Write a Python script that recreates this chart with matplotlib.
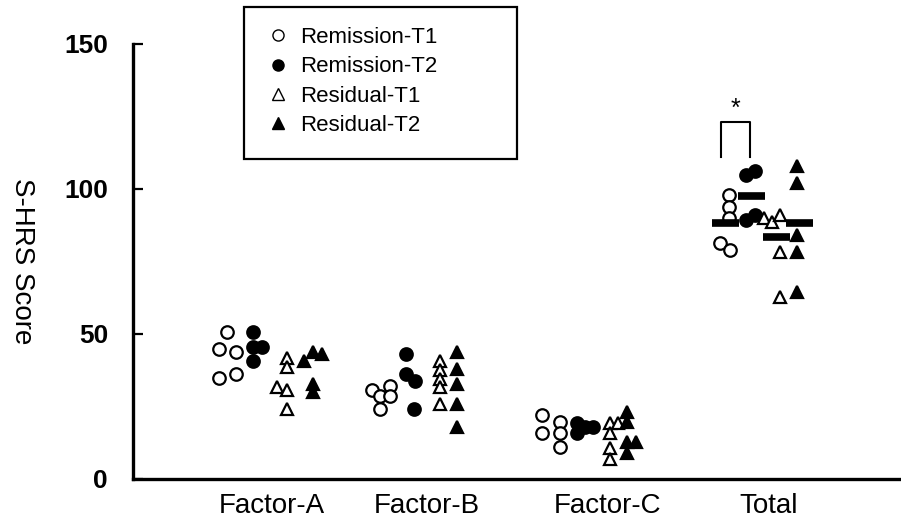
import matplotlib
matplotlib.use('Agg')
import matplotlib.pyplot as plt
from matplotlib.lines import Line2D
from matplotlib.patches import Rectangle

plt.rcParams['font.family'] = ['Liberation Sans', 'DejaVu Sans']

# data
categories = ['Factor-A', 'Factor-B', 'Factor-C', 'Total']
series = ['Remission-T1', 'Remission-T2', 'Residual-T1', 'Residual-T2']

rem_t1 = [[50.7, 44.8, 43.8, 34.8, 36.2],
          [30.7, 28.6, 32.1, 28.6, 24.1],
          [22.1, 15.9, 19.7, 15.9, 11.0],
          [97.9, 93.8, 90.0, 81.4, 79.0]]
rem_t2 = [[50.7, 45.5, 45.5, 40.7],
          [43.1, 36.2, 33.8, 24.1],
          [19.3, 15.9, 17.9, 17.9],
          [104.8, 106.2, 89.3, 91.0]]
res_t1 = [[41.7, 38.6, 31.7, 30.7, 24.1],
          [40.7, 37.6, 34.5, 31.7, 25.9],
          [19.3, 19.3, 15.9, 10.7, 6.9],
          [90.0, 88.6, 91.0, 78.3, 62.8]]
res_t2 = [[43.8, 40.7, 43.1, 32.8, 30.0],
          [43.8, 37.9, 32.8, 25.9, 17.9],
          [23.1, 19.7, 12.8, 12.8, 9.0],
          [107.9, 102.1, 84.1, 78.3, 64.5]]
total_means = [88.3, 97.6, 83.4, 88.3]

# layout: category centres and per-point horizontal offsets (scatter spread)
cat_pos = [0.869, 1.838, 2.969, 3.975]
off_rem_t1 = [[-0.28, -0.33, -0.225, -0.33, -0.225],
              [-0.345, -0.295, -0.23, -0.23, -0.295],
              [-0.41, -0.41, -0.3, -0.3, -0.3],
              [-0.25, -0.25, -0.25, -0.305, -0.245]]
off_rem_t2 = [[-0.12, -0.12, -0.06, -0.12],
              [-0.13, -0.13, -0.075, -0.08],
              [-0.195, -0.195, -0.145, -0.095],
              [-0.145, -0.09, -0.145, -0.09]]
off_res_t1 = [[0.095, 0.095, 0.03, 0.095, 0.095],
              [0.08, 0.08, 0.08, 0.08, 0.08],
              [0.015, 0.06, 0.015, 0.015, 0.015],
              [-0.03, 0.02, 0.07, 0.07, 0.07]]
off_res_t2 = [[0.255, 0.2, 0.31, 0.255, 0.255],
              [0.19, 0.19, 0.19, 0.19, 0.19],
              [0.12, 0.12, 0.12, 0.175, 0.12],
              [0.175, 0.175, 0.175, 0.175, 0.175]]
mean_off = [-0.27, -0.11, 0.045, 0.19]

fig = plt.figure(figsize=(9.01, 5.2), dpi=100)
ax = fig.add_axes([133 / 901, 1 - 479 / 520, 1 - 133 / 901, (479 - 44) / 520])

styles = [dict(marker='o', mfc='white', mec='black'),
          dict(marker='o', mfc='black', mec='black'),
          dict(marker='^', mfc='white', mec='black'),
          dict(marker='^', mfc='black', mec='black')]
groups = [(rem_t1, off_rem_t1), (rem_t2, off_rem_t2),
          (res_t1, off_res_t1), (res_t2, off_res_t2)]

for (vals, offs), st in zip(groups, styles):
    for c in range(len(categories)):
        xs = [cat_pos[c] + o for o in offs[c]]
        ax.plot(xs, vals[c], linestyle='none', ms=9, mew=1.6, zorder=3, **st)

# mean bars for Total
for m, o in zip(total_means, mean_off):
    x0 = cat_pos[3] + o
    ax.hlines(m, x0 - 0.084, x0 + 0.084, color='black', lw=5.5, zorder=4)

# significance bracket
bx0, bx1 = cat_pos[3] - 0.30, cat_pos[3] - 0.119
ax.plot([bx0, bx0, bx1, bx1], [111, 123.1, 123.1, 111], color='black', lw=1.5)
ax.text((bx0 + bx1) / 2, 127.5, '*', ha='center', va='center', fontsize=18)

ax.set_xlim(0, 4.8)
ax.set_ylim(0, 150)
ax.set_yticks([0, 50, 100, 150])
ax.set_xticks(cat_pos)
ax.set_xticklabels(categories, fontsize=20)
ax.tick_params(axis='x', length=0, pad=10)
ax.tick_params(axis='y', direction='in', length=7, width=1.6, pad=18, labelsize=19)
for lab in ax.get_yticklabels():
    lab.set_fontweight('bold')
for s in ['top', 'right']:
    ax.spines[s].set_visible(False)
for s in ['left', 'bottom']:
    ax.spines[s].set_linewidth(2.4)
ax.set_ylabel('S-HRS Score', fontsize=20, rotation=270, labelpad=20)
ax.yaxis.set_label_coords(-0.162, 0.5)

handles = [Line2D([], [], linestyle='none', ms=8, mew=1.0, **st) for st in styles]
fig.legend(handles, series, loc='upper left', bbox_to_anchor=(256 / 901, 1 - 16 / 520),
           frameon=False, fontsize=16, labelspacing=0.37, handletextpad=0.5,
           handlelength=1.0, borderpad=0)
fig.patches.append(Rectangle((244 / 901, 1 - 159 / 520), 273 / 901, 152 / 520,
                             transform=fig.transFigure, fill=False, lw=1.6,
                             edgecolor='black'))

fig.savefig('out.png', dpi=100)
